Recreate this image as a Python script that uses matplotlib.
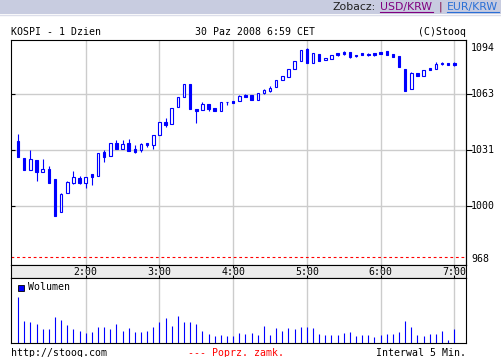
import matplotlib
matplotlib.use('Agg')
import matplotlib.pyplot as plt
from matplotlib.patches import Rectangle
from matplotlib.lines import Line2D

W, H = 502, 357

# 5-minute candles, minutes after 1:00 CET
times = list(range(5, 365, 5))
opens = [1036.3, 1026.8, 1020.3, 1025.7, 1019.2, 1020.7, 1015.1, 996.8, 1007.5, 1013.0,
         1015.8, 1012.7, 1017.7, 1016.9, 1030.2, 1027.8, 1035.2, 1031.7, 1035.2, 1032.0,
         1031.3, 1035.0, 1034.1, 1039.9, 1047.1, 1045.7, 1055.2, 1061.1, 1068.2, 1054.0,
         1053.9, 1057.2, 1054.6, 1053.1, 1058.4, 1058.9, 1058.9, 1062.2, 1062.1, 1059.4,
         1063.0, 1064.3, 1066.4, 1070.3, 1072.3, 1076.4, 1080.9, 1087.6, 1080.1, 1085.0,
         1081.4, 1082.2, 1085.4, 1086.1, 1085.9, 1084.6, 1085.4, 1085.2, 1085.5, 1086.1,
         1086.6, 1085.0, 1083.9, 1076.6, 1065.2, 1074.4, 1072.7, 1077.3, 1076.4, 1080.1,
         1079.8, 1080.0]
highs = [1040.2, 1026.8, 1031.5, 1025.7, 1026.4, 1022.5, 1015.1, 1007.3, 1014.1, 1019.6,
         1016.8, 1016.4, 1018.0, 1029.5, 1031.3, 1035.0, 1036.9, 1036.7, 1037.5, 1034.0,
         1035.0, 1035.0, 1039.5, 1046.9, 1049.2, 1054.6, 1060.8, 1068.2, 1068.2, 1054.0,
         1058.1, 1057.2, 1054.6, 1058.1, 1058.4, 1058.9, 1062.0, 1062.8, 1062.1, 1063.2,
         1065.4, 1066.9, 1070.3, 1072.7, 1076.4, 1080.9, 1087.2, 1088.3, 1085.4, 1085.0,
         1082.6, 1084.4, 1085.5, 1086.5, 1086.3, 1084.6, 1085.4, 1085.4, 1085.7, 1086.1,
         1086.6, 1085.0, 1083.9, 1076.6, 1074.8, 1074.4, 1075.9, 1077.3, 1080.3, 1080.5,
         1079.8, 1080.5]
lows = [1027.6, 1020.3, 1020.3, 1014.1, 1019.2, 1013.0, 994.6, 996.8, 1007.5, 1012.4,
        1012.3, 1010.2, 1011.7, 1016.9, 1024.8, 1027.8, 1031.7, 1031.7, 1030.9, 1029.8,
        1030.4, 1032.8, 1031.7, 1039.9, 1044.3, 1045.7, 1055.2, 1061.1, 1054.4, 1046.6,
        1053.9, 1053.1, 1053.1, 1053.1, 1056.7, 1057.8, 1058.9, 1060.8, 1059.4, 1059.4,
        1062.6, 1063.7, 1066.4, 1070.3, 1072.3, 1076.4, 1080.9, 1080.1, 1080.1, 1080.8,
        1081.4, 1082.2, 1083.8, 1084.6, 1082.9, 1083.1, 1084.3, 1084.0, 1084.0, 1085.1,
        1084.6, 1083.5, 1077.9, 1064.4, 1065.2, 1072.5, 1072.7, 1075.9, 1076.4, 1079.0,
        1078.8, 1078.3]
closes = [1027.6, 1020.3, 1026.3, 1019.2, 1020.7, 1013.0, 994.6, 1006.7, 1013.5, 1016.2,
          1013.0, 1016.4, 1016.4, 1029.5, 1027.4, 1035.0, 1031.7, 1034.5, 1030.9, 1030.4,
          1034.5, 1034.0, 1039.5, 1046.9, 1045.3, 1054.6, 1060.8, 1068.2, 1054.4, 1053.1,
          1057.2, 1054.1, 1053.1, 1058.1, 1057.9, 1057.8, 1061.5, 1061.1, 1059.4, 1063.2,
          1064.8, 1066.1, 1070.3, 1072.7, 1076.4, 1080.9, 1087.2, 1080.1, 1085.4, 1080.8,
          1082.6, 1084.4, 1084.4, 1085.1, 1083.1, 1083.7, 1084.3, 1084.3, 1084.6, 1085.1,
          1084.6, 1083.5, 1077.9, 1064.4, 1074.2, 1072.5, 1075.9, 1075.9, 1079.4, 1079.2,
          1078.8, 1078.8]
volume = [46, 22, 21, 19, 14, 14, 26, 23, 18, 14, 12, 10, 11, 16, 16, 14, 19, 12, 15, 11,
          11, 12, 16, 21, 25, 17, 27, 21, 21, 19, 12, 9, 7, 8, 7, 7, 10, 9, 10, 8,
          17, 8, 15, 12, 15, 14, 16, 16, 15, 9, 8, 8, 8, 10, 11, 7, 8, 8, 6, 8,
          9, 9, 11, 22, 16, 8, 7, 9, 9, 12, 3, 14]

prev_close = 971.3
hour_ticks = [60, 120, 180, 240, 300, 360]
hour_labels = ['2:00', '3:00', '4:00', '5:00', '6:00', '7:00']
grid_levels = [1000, 1031.3, 1062.6]
price_labels = ['1094', '1063', '1031', '1000', '968']
price_label_pos = [1088.6, 1062.6, 1031.3, 1000, 970.5]

BLUE = '#0000ff'
GRID = '#cccccc'
MONO = 'DejaVu Sans Mono'
FS = 7.1


def rect(x0, y0, x1, y1):
    # pixel box (top-left origin) -> figure fraction
    return [x0 / W, 1 - y1 / H, (x1 - x0) / W, (y1 - y0) / H]


def fx(x):
    return x / W


def fy(y):
    return 1 - y / H


fig = plt.figure(figsize=(W / 100, H / 100), dpi=100)
fig.patch.set_facecolor('white')

# top link bar
fig.patches.append(Rectangle((0, fy(14)), 1, 14 / H, transform=fig.transFigure,
                             facecolor='#c8cce0', edgecolor='none'))
fig.lines.append(Line2D([0, 1], [fy(15), fy(15)], transform=fig.transFigure,
                        color='#dcdeea', lw=1))
fig.text(fx(333), fy(7), 'Zobacz:', fontsize=7.8, color='#202020', va='center')
fig.text(fx(380), fy(7), 'USD/KRW', fontsize=7.8, color='#800080', va='center')
fig.text(fx(440), fy(7), '|', fontsize=7.8, color='#800040', va='center', ha='center')
fig.text(fx(447), fy(7), 'EUR/KRW', fontsize=7.8, color='#2a6fd6', va='center')
fig.lines.append(Line2D([fx(380), fx(433)], [fy(12), fy(12)], transform=fig.transFigure,
                        color='#800080', lw=0.8))
fig.lines.append(Line2D([fx(447), fx(499)], [fy(12), fy(12)], transform=fig.transFigure,
                        color='#2a6fd6', lw=0.8))

# header line
fig.text(fx(11), fy(32), 'KOSPI - 1 Dzien', family=MONO, fontsize=FS, va='center')
fig.text(fx(255), fy(32), '30 Paz 2008 6:59 CET', family=MONO, fontsize=FS,
         va='center', ha='center')
fig.text(fx(466), fy(32), '(C)Stooq', family=MONO, fontsize=FS, va='center', ha='right')

# main price panel
ax = fig.add_axes(rect(11, 40, 466, 265))
ax.set_xlim(-0.8, 369.5)
ax.set_ylim(967.0, 1092.8)
ax.set_axisbelow(True)
ax.set_xticks(hour_ticks)
ax.set_yticks(grid_levels)
ax.grid(True, color=GRID, lw=1)
ax.tick_params(axis='x', length=0, labelbottom=False)
ax.tick_params(axis='y', direction='in', length=3, width=0.8, labelleft=False)
for s in ax.spines.values():
    s.set_linewidth(0.8)

for t, o, h, l, c in zip(times, opens, highs, lows, closes):
    up = c >= o
    ax.vlines(t, l, h, color=BLUE, lw=0.8, zorder=2)
    ax.bar(t, max(abs(c - o), 0.4), bottom=min(o, c), width=2.0,
           facecolor='white' if up else BLUE, edgecolor=BLUE, lw=0.8, zorder=3)

ax.axhline(prev_close, color='#ff0000', lw=0.8, dashes=(2.5, 2.5), zorder=2)

sec = ax.secondary_yaxis('right')
sec.set_yticks(grid_levels)
sec.tick_params(direction='out', length=4, width=0.8, labelright=False)
sec.spines['right'].set_linewidth(0.8)
for v, lbl in zip(price_label_pos, price_labels):
    ax.text(1.011, v, lbl, transform=ax.get_yaxis_transform(), family=MONO,
            fontsize=FS, va='center', ha='left')

# time band
axt = fig.add_axes(rect(11, 265, 466, 278))
axt.set_facecolor('#ebebeb')
axt.set_xlim(-0.8, 369.5)
axt.set_ylim(0, 1)
axt.set_xticks(hour_ticks)
axt.set_yticks([])
axt.tick_params(axis='x', direction='in', length=2, width=0.8, top=True, bottom=True,
                labelbottom=False)
for s in axt.spines.values():
    s.set_linewidth(0.8)
for t, lbl in zip(hour_ticks, hour_labels):
    axt.text(t, 0.45, lbl, family=MONO, fontsize=FS, ha='center', va='center')

# volume panel
axv = fig.add_axes(rect(11, 278, 466, 343))
axv.set_xlim(-0.8, 369.5)
axv.set_ylim(0, 64.5)
axv.set_axisbelow(True)
axv.set_xticks(hour_ticks)
axv.set_yticks([])
axv.grid(True, axis='x', color=GRID, lw=1)
axv.tick_params(axis='x', length=0, labelbottom=False)
for s in axv.spines.values():
    s.set_linewidth(0.8)
axv.vlines(times, 0, volume, color=BLUE, lw=0.8)

fig.patches.append(Rectangle((fx(18), fy(291)), 6 / W, 6 / H, transform=fig.transFigure,
                             facecolor=BLUE, edgecolor='black', lw=0.6))
fig.text(fx(28), fy(287.5), 'Wolumen', family=MONO, fontsize=FS, va='center')

# footer
fig.text(fx(11), fy(352.5), 'http://stooq.com', family=MONO, fontsize=FS, va='center')
fig.text(fx(236), fy(352.5), '--- Poprz. zamk.', family=MONO, fontsize=FS,
         va='center', ha='center', color='#ff0000')
fig.text(fx(466), fy(352.5), 'Interwal 5 Min.', family=MONO, fontsize=FS,
         va='center', ha='right')

fig.savefig('out.png', dpi=100)
